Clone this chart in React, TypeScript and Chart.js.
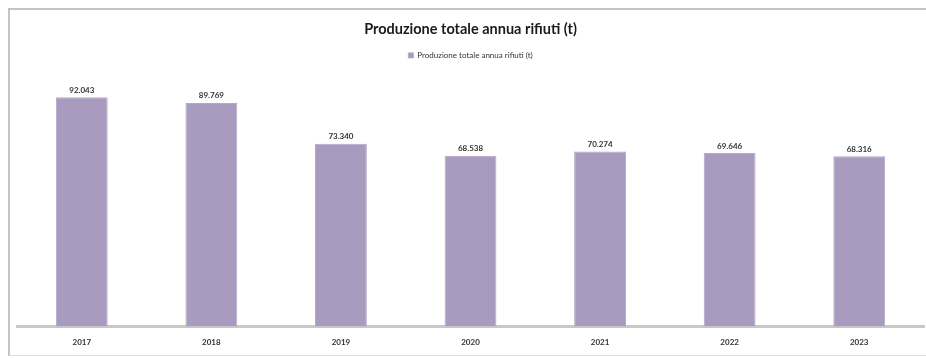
import React, { useEffect, useRef } from "react";
import { Chart, registerables } from "chart.js";

Chart.register(...registerables);

const years = ["2017", "2018", "2019", "2020", "2021", "2022", "2023"];
const production = [92043, 89769, 73340, 68538, 70274, 69646, 68316];
const seriesLabel = "Produzione totale annua rifiuti (t)";
const chartTitle = "Produzione totale annua rifiuti (t)";

const fmt = (v: number) => v.toLocaleString("it-IT");

const valueLabels = {
  id: "valueLabels",
  afterDatasetsDraw(chart: any) {
    const ctx = chart.ctx;
    const meta = chart.getDatasetMeta(0);
    ctx.save();
    ctx.font = "bold 8px Lato, 'Open Sans', sans-serif";
    ctx.fillStyle = "#333333";
    ctx.textAlign = "center";
    ctx.textBaseline = "bottom";
    meta.data.forEach((bar: any, i: number) => {
      ctx.fillText(fmt(production[i]), bar.x, bar.y - 3);
    });
    ctx.restore();
  },
};

const legendSpacer = {
  id: "legendSpacer",
  beforeInit(chart: any) {
    const legend = chart.legend;
    if (!legend) return;
    const fit = legend.fit;
    legend.fit = function () {
      fit.call(legend);
      legend.height += 8;
    };
  },
};

export default function App() {
  const ref = useRef<HTMLCanvasElement | null>(null);
  useEffect(() => {
    if (!ref.current) return;
    const chart = new Chart(ref.current, {
      type: "bar",
      data: {
        labels: years,
        datasets: [
          {
            label: seriesLabel,
            data: production,
            backgroundColor: "#a99bbf",
            borderColor: "#b4a8c8",
            borderWidth: 1,
            barPercentage: 0.8,
            categoryPercentage: 0.5,
          },
        ],
      },
      options: {
        animation: false,
        responsive: false,
        maintainAspectRatio: false,
        layout: { padding: { left: 17, right: 2, top: 0, bottom: 0 } },
        plugins: {
          title: {
            display: true,
            text: chartTitle,
            color: "#1a1a1a",
            font: { family: "Lato, 'Open Sans', sans-serif", size: 14.5, weight: "bold" },
            padding: { top: 21, bottom: 9 },
          },
          legend: {
            display: true,
            labels: {
              boxWidth: 5,
              boxHeight: 5,
              color: "#333333",
              font: { family: "Lato, 'Open Sans', sans-serif", size: 8 },
              padding: 4,
            },
          },
          tooltip: { enabled: false },
        },
        scales: {
          y: { display: false, min: 0, max: 100000 },
          x: {
            grid: { display: false, drawTicks: false },
            border: { display: true, color: "#c8c8c8", width: 3 },
            ticks: {
              color: "#333333",
              font: { family: "Lato, 'Open Sans', sans-serif", size: 8, weight: "bold" },
              padding: 11,
            },
          },
        },
      },
      plugins: [valueLabels, legendSpacer],
    });
    return () => chart.destroy();
  }, []);

  return (
    <div style={{ position: "fixed", left: 0, top: 0, width: 926, height: 358, background: "#ffffff" }}>
      <div
        style={{
          position: "absolute",
          left: 8,
          top: 8,
          width: 918,
          height: 348,
          borderTop: "2px solid #c4c4c4",
          borderLeft: "2px solid #c4c4c4",
          borderBottom: "1px solid #dddddd",
          boxSizing: "border-box",
        }}
      />
      <canvas ref={ref} width={926} height={358} style={{ position: "absolute", left: 0, top: 0 }} />
    </div>
  );
}
